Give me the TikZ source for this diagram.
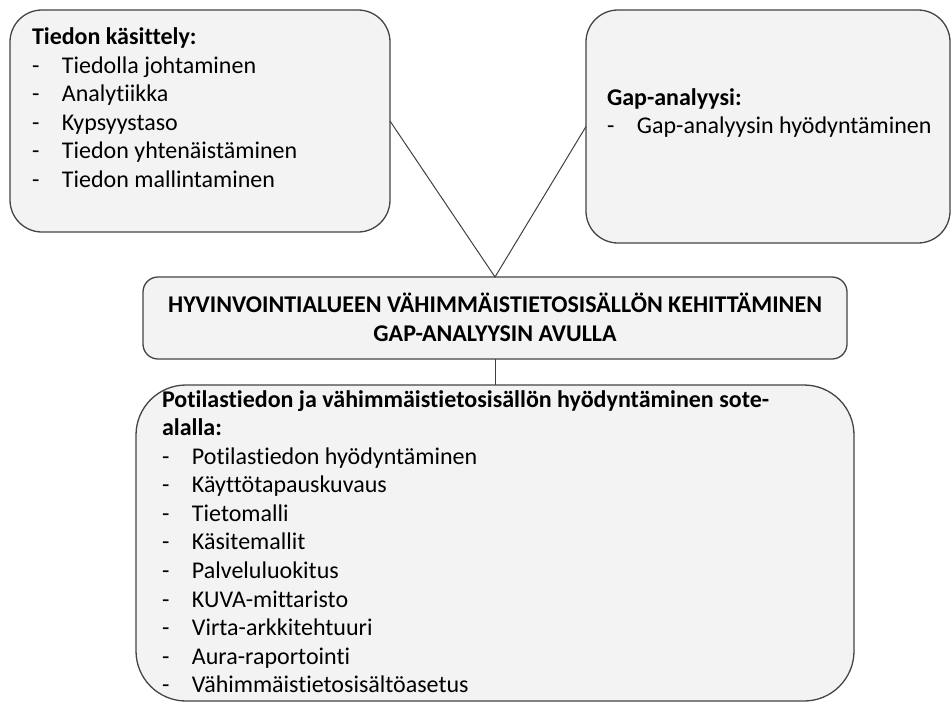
\documentclass[tikz,border=0pt]{standalone}
\usepackage{fontspec}
\setmainfont{Carlito}[Ligatures={NoCommon,NoContextual}]
\definecolor{boxfill}{HTML}{F3F3F3}
\definecolor{boxline}{HTML}{444444}
\definecolor{connline}{HTML}{404040}
\newcommand{\listline}[1]{\makebox[30pt][l]{-}#1}
\begin{document}
\begin{tikzpicture}[x=1pt,y=-1pt,
  box/.style={draw=boxline, fill=boxfill, line width=1.3pt, inner sep=0pt, outer sep=0pt},
  conn/.style={draw=connline, line width=1pt},
  txt/.style={anchor=base west, inner sep=0pt, outer sep=0pt, text=black,
              font=\fontsize{24pt}{28.6pt}\selectfont},
  head/.style={txt, font=\fontsize{24pt}{28.6pt}\selectfont\bfseries},
  title/.style={head, anchor=base}]
\useasboundingbox (0,0) rectangle (952,702);

% boxes
\node[box, minimum width=380pt, minimum height=222pt, rounded corners=32pt] (tk) at (200,121) {};
\node[box, minimum width=364pt, minimum height=233pt, rounded corners=32pt] (ga) at (768,126.5) {};
\node[box, minimum width=704pt, minimum height=82pt, rounded corners=15pt] (kh) at (495,318) {};
\node[box, minimum width=718pt, minimum height=316pt, rounded corners=50pt] (pt) at (495,543) {};

% connectors
\draw[conn] (tk.east) -- (kh.north) -- (ga.west);
\draw[conn] (kh.south) -- (pt.north);

% Tiedon käsittely
\node[head] (tkh) at (32,44) {Tiedon käsittely:};
\node[txt] (tk1) at (32,73) {\listline{Tiedolla johtaminen}};
\node[txt] (tk2) at (32,101.5) {\listline{Analytiikka}};
\node[txt] (tk3) at (32,130) {\listline{Kypsyystaso}};
\node[txt] (tk4) at (32,158.5) {\listline{Tiedon yhtenäistäminen}};
\node[txt] (tk5) at (32,187) {\listline{Tiedon mallintaminen}};

% Gap-analyysi
\node[head] (gah) at (607,105) {Gap-analyysi:};
\node[txt] (ga1) at (607,133) {\listline{Gap-analyysin hyödyntäminen}};

% title
\node[title] (kh1) at (495,312) {HYVINVOINTIALUEEN VÄHIMMÄISTIETOSISÄLLÖN KEHITTÄMINEN};
\node[title] (kh2) at (495,341) {GAP-ANALYYSIN AVULLA};

% Potilastiedon hyödyntäminen
\node[head] (pth1) at (162,407) {Potilastiedon ja vähimmäistietosisällön hyödyntäminen sote-};
\node[head] (pth2) at (162,435) {alalla:};
\node[txt] (pt1) at (162,464) {\listline{Potilastiedon hyödyntäminen}};
\node[txt] (pt2) at (162,492.6) {\listline{Käyttötapauskuvaus}};
\node[txt] (pt3) at (162,521.2) {\listline{Tietomalli}};
\node[txt] (pt4) at (162,549.8) {\listline{Käsitemallit}};
\node[txt] (pt5) at (162,578.4) {\listline{Palveluluokitus}};
\node[txt] (pt6) at (162,607) {\listline{KUVA-mittaristo}};
\node[txt] (pt7) at (162,635.6) {\listline{Virta-arkkitehtuuri}};
\node[txt] (pt8) at (162,664.2) {\listline{Aura-raportointi}};
\node[txt] (pt9) at (162,692.8) {\listline{Vähimmäistietosisältöasetus}};
\end{tikzpicture}
\end{document}
